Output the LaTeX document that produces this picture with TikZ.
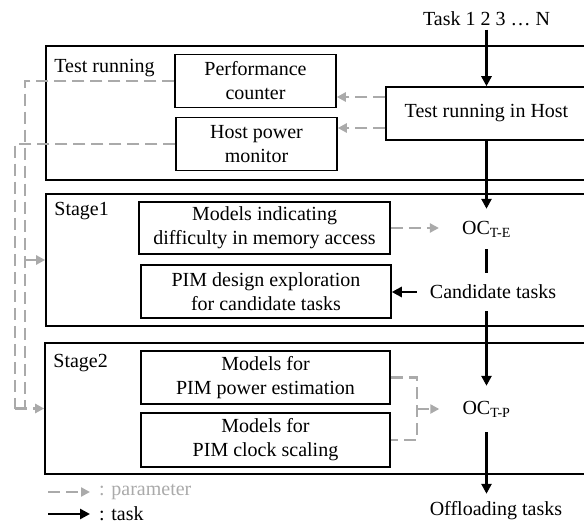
\documentclass[tikz,border=0pt]{standalone}
\usepackage{fontspec}
\setmainfont{Liberation Serif}
\usetikzlibrary{positioning,calc,arrows.meta}
\definecolor{paramgray}{RGB}{170,170,170}

\begin{document}
\begin{tikzpicture}[x=1pt, y=-1pt, node distance=10pt,
    font=\fontsize{20}{24}\selectfont,
    frame/.style={draw, line width=1.6pt, minimum width=556pt, inner sep=0pt},
    box/.style={draw, line width=1.5pt, align=center, minimum height=53pt, inner sep=2pt},
    lbl/.style={inner sep=0pt},
    oc/.style={minimum height=40pt, inner xsep=23pt},
    task/.style={line width=2.6pt, -{Triangle[length=10pt,width=10pt]}},
    param/.style={paramgray, line width=2.6pt, dash pattern=on 12pt off 6pt, -{Triangle[length=9pt,width=9pt]}}]
    \useasboundingbox (0,0) rectangle (584,524);
    \clip (0,0) rectangle (584,524);

    % frames
    \node [frame, minimum height=134pt] (testfr) at (324,113) {};
    \node [frame, minimum height=132pt] (stage1fr) at (324,260) {};
    \node [frame, minimum height=131pt] (stage2fr) at (323,408.5) {};
    \node [lbl, below right=14pt and 9pt of testfr.north west] (testlbl) {Test running};
    \node [lbl, below right=9pt and 9pt of stage1fr.north west] (stage1lbl) {Stage1};
    \node [lbl, below right=12pt and 9pt of stage2fr.north west] (stage2lbl) {Stage2};

    % boxes
    \node [box, minimum width=161pt] (perf) at (255.5,81) {Performance\\counter};
    \node [box, minimum width=161pt] (hostpow) at (256.5,144) {Host power\\monitor};
    \node [box, minimum width=201pt] (host) at (486.5,113.5) {Test running in Host};
    \node [box, minimum width=251pt, minimum height=52pt] (memmod) at (264.5,228) {Models indicating\\difficulty in memory access};
    \node [box, minimum width=250pt] (pimdse) at (266,291.5) {PIM design exploration\\for candidate tasks};
    \node [box, minimum width=249pt] (powmod) at (265.5,377.5) {Models for\\PIM power estimation};
    \node [box, minimum width=249pt, minimum height=54pt] (clkmod) at (265.5,440) {Models for\\PIM clock scaling};

    % task flow
    \node (tasks) at (486.5,19) {Task 1 2 3 … N};
    \node [oc] (ocE) at (486.5,229) {OC\textsubscript{T-E}};
    \node [lbl, minimum height=38pt, inner xsep=13pt] (cand) at (493,292) {Candidate tasks};
    \node [oc, minimum height=46pt] (ocP) at (486.5,409) {OC\textsubscript{T-P}};
    \node [minimum height=34pt] (offl) at (496,511) {Offloading tasks};

    \draw [task] (tasks) -- (host);
    \draw [task] (host) -- (ocE);
    \draw [line width=2.6pt] (ocE) -- (ocE |- cand.north);
    \draw [task] (ocE |- cand.south) -- (ocP);
    \draw [task] (ocP) -- (ocP |- offl.north);
    \draw [task] (cand.west) -- (cand.west -| pimdse.east);

    % parameters
    \draw [param] ([yshift=16.5pt]host.west) -- ([yshift=16.5pt]host.west -| perf.east);
    \draw [param] ([yshift=-14.5pt]host.west) -- ([yshift=-14.5pt]host.west -| hostpow.east);
    \draw [param] (memmod.east) -- (memmod.east -| ocE.west);

    \coordinate (busA) at (25,0);
    \coordinate (busB) at (15,0);
    \draw [param, -] (perf.west) -| (busA |- stage2fr.west);
    \draw [param] (busA |- stage1fr.west) -- (stage1fr.west);
    \draw [param, -] (hostpow.west) -| (busB |- stage2fr.west);
    \draw [param] (busB |- stage2fr.west) -- (stage2fr.west);

    \coordinate (brk) at (417,0);
    \draw [param, -] (powmod.east) -| (brk |- clkmod.east) -- (clkmod.east);
    \draw [param] (brk |- ocP.west) -- (ocP.west);

    % legend
    \node [anchor=west, inner xsep=9pt, inner ysep=1pt, text=paramgray] (legparam) at (90,492) {: parameter};
    \coordinate (legparamS) at (48,492);
    \draw [param] (legparamS) -- (legparam.west);
    \node [anchor=west, inner xsep=9pt, inner ysep=1pt] (legtask) at (90,514) {: task};
    \coordinate (legtaskS) at (48,514);
    \draw [task] (legtaskS) -- (legtask.west);

\end{tikzpicture}
\end{document}
